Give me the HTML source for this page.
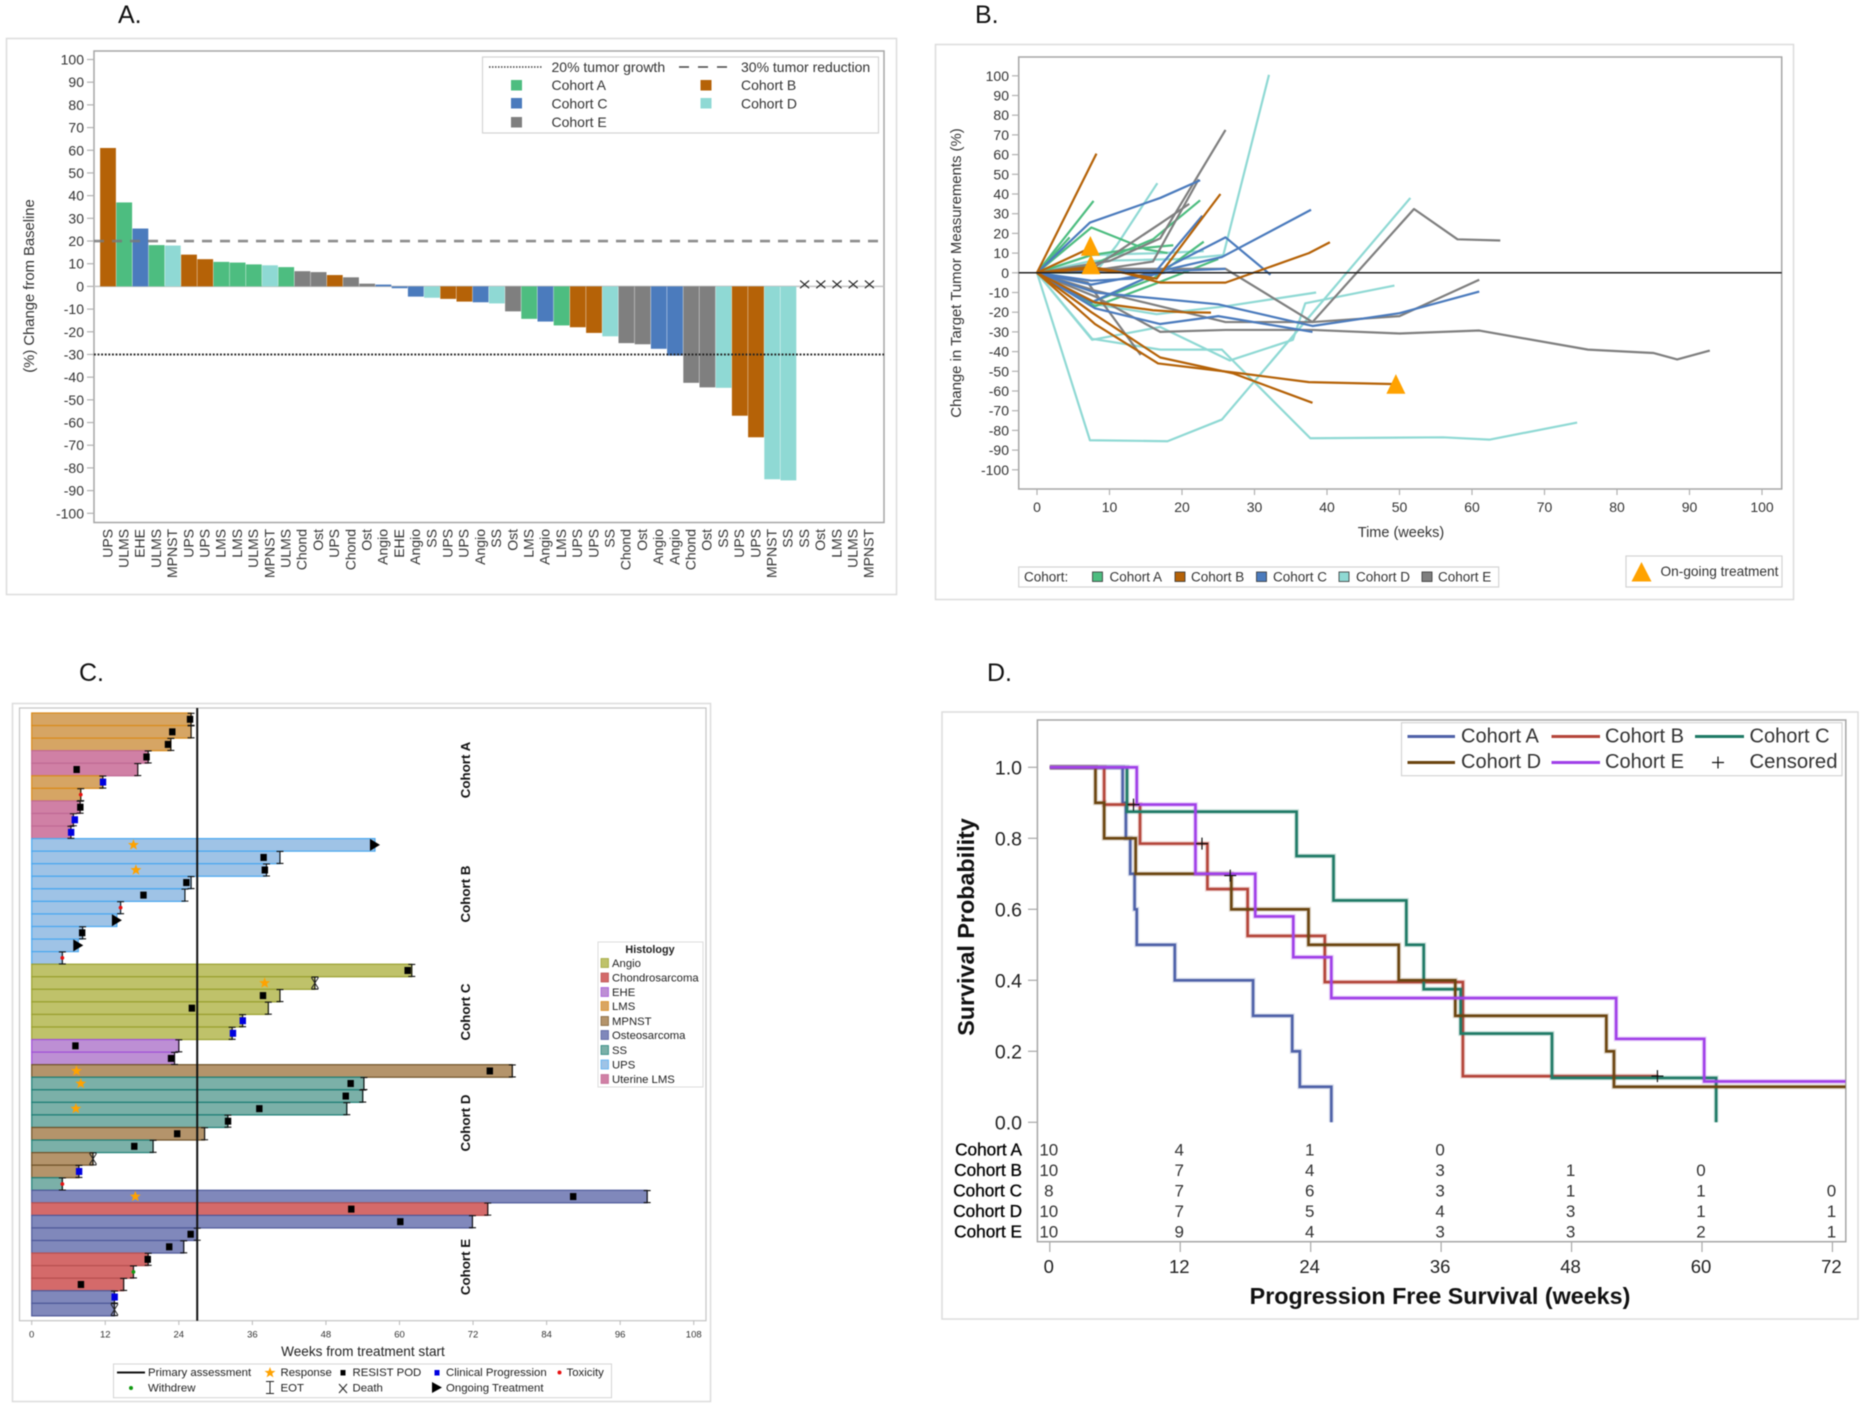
<!DOCTYPE html>
<html lang="en">
<head>
<meta charset="utf-8">
<title>Cohort response figures A-D</title>
<style>
html,body{margin:0;padding:0;background:#fff;}
svg{display:block;font-family:"Liberation Sans",sans-serif;fill:#222;filter:blur(0.45px);}
</style>
</head>
<body>
<svg id="fig" xmlns="http://www.w3.org/2000/svg" width="1860" height="1406" viewBox="0 0 1860 1406">
  <rect width="1860" height="1406" fill="#fff"/>

  <!-- Panel frames -->
  <g fill="none">
    <rect x="6.5" y="38.5" width="890" height="556" stroke="#dcdcdc" stroke-width="1.5" fill="#fff"/>
    <rect x="94" y="51" width="790" height="471.5" stroke="#a6a6a6" stroke-width="1.5"/>
  </g>
  <g fill="none">
    <rect x="935.5" y="44.5" width="858" height="555" stroke="#dcdcdc" stroke-width="1.5" fill="#fff"/>
    <rect x="1018.7" y="57" width="763" height="432" stroke="#a6a6a6" stroke-width="1.5"/>
  </g>
  <g fill="none">
    <rect x="12.5" y="703.5" width="698" height="698" stroke="#dcdcdc" stroke-width="1.5" fill="#fff"/>
    <rect x="19.5" y="708" width="686.5" height="612.7" stroke="#c4c4c4" stroke-width="1.2"/>
  </g>
  <g fill="none">
    <rect x="942" y="712" width="916" height="607" stroke="#dcdcdc" stroke-width="1.5" fill="#fff"/>
    <rect x="1037.4" y="720" width="808.4" height="521.7" stroke="#a6a6a6" stroke-width="1.5"/>
  </g>

  <!-- Panel letters -->
  <text x="118" y="23" font-size="25" fill="#111">A.</text>
  <text x="975" y="23" font-size="25" fill="#111">B.</text>
  <text x="79" y="681" font-size="25" fill="#111">C.</text>
  <text x="987" y="681" font-size="25" fill="#111">D.</text>

  <!-- Axis titles -->
  <text transform="translate(34,286) rotate(-90)" text-anchor="middle" font-size="14.8" fill="#333">(%) Change from Baseline</text>
  <text transform="translate(961,273) rotate(-90)" text-anchor="middle" font-size="14.9" fill="#333">Change in Target Tumor Measurements (%)</text>
  <text x="1401" y="537" text-anchor="middle" font-size="14.5" fill="#333">Time (weeks)</text>
  <text x="363" y="1356" text-anchor="middle" font-size="13.6" fill="#222">Weeks from treatment start</text>
  <text transform="translate(974,927) rotate(-90)" text-anchor="middle" font-size="23.3" font-weight="bold" fill="#111">Survival Probability</text>
  <text x="1440" y="1304" text-anchor="middle" font-size="23.3" font-weight="bold" fill="#111">Progression Free Survival (weeks)</text>

  <!-- Cohort labels, panel C -->
  <g font-size="13.3" font-weight="bold" fill="#111" text-anchor="middle">
    <text transform="translate(470,770) rotate(-90)">Cohort A</text>
    <text transform="translate(470,894) rotate(-90)">Cohort B</text>
    <text transform="translate(470,1012) rotate(-90)">Cohort C</text>
    <text transform="translate(470,1123) rotate(-90)">Cohort D</text>
    <text transform="translate(470,1267) rotate(-90)">Cohort E</text>
  </g>

  <g id="chartA"></g>
  <g id="chartB"></g>
  <g id="chartC"></g>
  <g id="chartD"></g>

  <!-- Legend A -->
  <g font-size="14" fill="#333">
    <rect x="482.5" y="57" width="396" height="76" fill="#fff" stroke="#d4d4d4" stroke-width="1.2"/>
    <line x1="489" y1="67" x2="543" y2="67" stroke="#444" stroke-width="1.5" stroke-dasharray="1.5 1.5"/>
    <text x="551.5" y="72">20% tumor growth</text>
    <line x1="679" y1="67" x2="728" y2="67" stroke="#444" stroke-width="1.5" stroke-dasharray="10 9"/>
    <text x="741" y="72">30% tumor reduction</text>
    <rect x="511" y="80" width="11" height="10.5" fill="#4dbd80"/>
    <text x="551.5" y="90">Cohort A</text>
    <rect x="700.5" y="80" width="11" height="10.5" fill="#b56207"/>
    <text x="741" y="90">Cohort B</text>
    <rect x="511" y="98" width="11" height="10.5" fill="#4b7bbd"/>
    <text x="551.5" y="108.5">Cohort C</text>
    <rect x="700.5" y="98" width="11" height="10.5" fill="#8fd9d4"/>
    <text x="741" y="108.5">Cohort D</text>
    <rect x="511" y="117" width="11" height="10.5" fill="#7f7f7f"/>
    <text x="551.5" y="127">Cohort E</text>
  </g>

  <!-- Legend B -->
  <g font-size="13.5" fill="#333">
    <rect x="1018.7" y="567" width="480" height="20" fill="#fff" stroke="#d4d4d4" stroke-width="1.2"/>
    <text x="1024" y="581.5">Cohort:</text>
    <rect x="1092.5" y="572" width="10" height="9.5" fill="#4dbd80" stroke="#333" stroke-width=".8"/>
    <text x="1109.5" y="581.5">Cohort A</text>
    <rect x="1175" y="572" width="10" height="9.5" fill="#b56207" stroke="#333" stroke-width=".8"/>
    <text x="1191" y="581.5">Cohort B</text>
    <rect x="1256.5" y="572" width="10" height="9.5" fill="#4b7bbd" stroke="#333" stroke-width=".8"/>
    <text x="1273" y="581.5">Cohort C</text>
    <rect x="1339" y="572" width="10" height="9.5" fill="#8fd9d4" stroke="#333" stroke-width=".8"/>
    <text x="1356" y="581.5">Cohort D</text>
    <rect x="1422" y="572" width="10" height="9.5" fill="#7f7f7f" stroke="#333" stroke-width=".8"/>
    <text x="1438" y="581.5">Cohort E</text>
  </g>
  <g font-size="13.7" fill="#333">
    <rect x="1626" y="556" width="156" height="31" fill="#fff" stroke="#d4d4d4" stroke-width="1.2"/>
    <polygon points="1641.5,562 1651.5,581.5 1631.5,581.5" fill="#ffa200"/>
    <text x="1660.5" y="576">On-going treatment</text>
  </g>

  <!-- Histology legend -->
  <g font-size="11.3" fill="#222">
    <rect x="598" y="942" width="105" height="145" fill="#fff" stroke="#dcdcdc" stroke-width="1"/>
    <text x="650" y="953" text-anchor="middle" font-weight="bold" font-size="10.8">Histology</text>
    <rect x="601" y="958.5" width="7.5" height="9" fill="#bfc26a" stroke="#9aa030" stroke-width=".7"/><text x="612" y="967">Angio</text>
    <rect x="601" y="973" width="7.5" height="9" fill="#d46a6a" stroke="#b85050" stroke-width=".7"/><text x="612" y="981.5">Chondrosarcoma</text>
    <rect x="601" y="987.5" width="7.5" height="9" fill="#bd8fd4" stroke="#a04fd8" stroke-width=".7"/><text x="612" y="996">EHE</text>
    <rect x="601" y="1001.5" width="7.5" height="9" fill="#d9a562" stroke="#d98b1b" stroke-width=".7"/><text x="612" y="1010">LMS</text>
    <rect x="601" y="1016.5" width="7.5" height="9" fill="#b4946b" stroke="#7a5a30" stroke-width=".7"/><text x="612" y="1025">MPNST</text>
    <rect x="601" y="1030.5" width="7.5" height="9" fill="#8088bb" stroke="#4f5a9a" stroke-width=".7"/><text x="612" y="1039">Osteosarcoma</text>
    <rect x="601" y="1045.5" width="7.5" height="9" fill="#7bb0a8" stroke="#1f7f77" stroke-width=".7"/><text x="612" y="1054">SS</text>
    <rect x="601" y="1060" width="7.5" height="9" fill="#9fc3e6" stroke="#4aa8f0" stroke-width=".7"/><text x="612" y="1068.5">UPS</text>
    <rect x="601" y="1074.5" width="7.5" height="9" fill="#d080a5" stroke="#c06a95" stroke-width=".7"/><text x="612" y="1083">Uterine LMS</text>
  </g>

  <!-- Bottom legend C -->
  <g font-size="11.4" fill="#222">
    <rect x="113.5" y="1364" width="498" height="33.7" fill="#fff" stroke="#d4d4d4" stroke-width="1"/>
    <line x1="117" y1="1372.5" x2="145" y2="1372.5" stroke="#111" stroke-width="2"/>
    <text x="148" y="1376">Primary assessment</text>
    <polygon points="270,1367 271.4,1370.9 275.5,1371 272.2,1373.5 273.4,1377.4 270,1375.1 266.6,1377.4 267.8,1373.5 264.5,1371 268.6,1370.9" fill="#ffa200"/>
    <text x="280.5" y="1376">Response</text>
    <rect x="340.5" y="1370" width="5" height="5.5" fill="#000"/>
    <text x="352.5" y="1376">RESIST POD</text>
    <rect x="434.5" y="1370" width="5" height="5.5" fill="#0000e0"/>
    <text x="446" y="1376">Clinical Progression</text>
    <circle cx="559.5" cy="1372.5" r="2" fill="#e81010"/>
    <text x="566.5" y="1376">Toxicity</text>
    <circle cx="131" cy="1388" r="2" fill="#119911"/>
    <text x="148" y="1391.5">Withdrew</text>
    <path d="M266 1381.5H274M270 1381.5V1393.5M266 1393.5H274" stroke="#222" stroke-width="1" fill="none"/>
    <text x="280.5" y="1391.5">EOT</text>
    <path d="M339 1384L347 1393M347 1384L339 1393" stroke="#222" stroke-width="1" fill="none"/>
    <text x="352.5" y="1391.5">Death</text>
    <polygon points="432,1382 442,1387.5 432,1393" fill="#000"/>
    <text x="446" y="1391.5">Ongoing Treatment</text>
  </g>

  <!-- Legend D -->
  <g font-size="20" fill="#333">
    <rect x="1401.5" y="722.7" width="440.5" height="53" fill="#fff" stroke="#d4d4d4" stroke-width="1.2"/>
    <line x1="1407.5" y1="736.5" x2="1455" y2="736.5" stroke="#4f62a8" stroke-width="3"/>
    <text x="1461" y="742.5">Cohort A</text>
    <line x1="1551.5" y1="736.5" x2="1600" y2="736.5" stroke="#b4453a" stroke-width="3"/>
    <text x="1605" y="742.5">Cohort B</text>
    <line x1="1695" y1="736.5" x2="1744" y2="736.5" stroke="#1f7a66" stroke-width="3"/>
    <text x="1749.5" y="742.5">Cohort C</text>
    <line x1="1407.5" y1="762.5" x2="1455" y2="762.5" stroke="#6b4510" stroke-width="3"/>
    <text x="1461" y="768">Cohort D</text>
    <line x1="1551.5" y1="762.5" x2="1600" y2="762.5" stroke="#a040e8" stroke-width="3"/>
    <text x="1605" y="768">Cohort E</text>
    <path d="M1718 756.5V768.5M1712 762.5H1724" stroke="#111" stroke-width="1.2" fill="none"/>
    <text x="1749.5" y="768" textLength="88" lengthAdjust="spacingAndGlyphs">Censored</text>
  </g>
</svg>

<script>
/* ===== Panel A data ===== */
const aCategories = ["UPS","ULMS","EHE","ULMS","MPNST","UPS","UPS","LMS","LMS","ULMS","MPNST","ULMS","Chond","Ost","UPS","Chond","Ost","Angio","EHE","Angio","SS","UPS","UPS","Angio","SS","Ost","LMS","Angio","LMS","UPS","UPS","SS","Chond","Ost","Angio","Angio","Chond","Ost","SS","UPS","UPS","MPNST","SS","SS","Ost","LMS","ULMS","MPNST"];
const aValues = [61,37,25.5,18.2,18,14,12,10.8,10.5,9.7,9.3,8.5,6.7,6.3,5,4,1.2,0.8,-0.8,-4.5,-5,-5.5,-6.7,-7,-7.5,-11,-14.3,-15.5,-17.2,-18,-20.5,-22,-25,-25.5,-27.5,-30.5,-42.5,-44.5,-44.7,-57,-66.5,-85,-85.5,null,null,null,null,null];
const aCohorts = ["B","A","C","A","D","B","B","A","A","A","D","A","E","E","B","E","E","C","C","C","D","B","B","C","D","E","A","C","A","B","B","D","E","E","C","C","E","E","D","B","B","D","D","","","","",""];
const aTicks = [100,90,80,70,60,50,40,30,20,10,0,-10,-20,-30,-40,-50,-60,-70,-80,-90,-100];

/* ===== Panel B data ===== */
const bTicksX = [0,10,20,30,40,50,60,70,80,90,100];
const bTicksY = [100,90,80,70,60,50,40,30,20,10,0,-10,-20,-30,-40,-50,-60,-70,-80,-90,-100];
const bTimesA = [[0,7.8],[0,4.5],[0,7.5,15,18],[0,7.5,13,18.8],[0,7.5,16,23],[0,8,16,25],[0,7.5,16,22.5]];
const bValuesA = [[0,36.5],[0,18],[0,23,12,10],[0,9,12,14],[0,-15,-3,15.8],[0,-17,-6,7],[0,4,17,36.8]];
const bTimesD = [[0,7.3,18,25.5,51.5],[0,7.6,17,25.5,37.7,56,62.4,74.5],[0,7.6,17,26.6,35.3,37,49.3],[0,8,16.5,26,38.5],[0,7.5,17,23],[0,8,11,16.6],[0,7.5,20,25.7,32]];
const bValuesD = [[0,-85,-85.5,-74.5,38],[0,-33.5,-39,-39,-84,-83.5,-84.7,-76],[0,-34,-27.5,-44.5,-34,-15.5,-6.5],[0,-16,-21,-17,-10],[0,9,10,11],[0,0,14,45.5],[0,6,7,9,100.5]];
const bTimesC = [[0,7.3,17,22.5],[0,7.5,13,19,26],[0,7.5,16,25.5,37.8],[0,7.5,17,26,32.2],[0,8,25,38,50,61],[0,8,17,25,38],[0,7.5,16,22.8]];
const bValuesC = [[0,25.5,38,47],[0,-4,-3,1,2],[0,-6,0,8,32],[0,1,1,18,-1],[0,-10,-16,-27,-20.5,-9.5],[0,-18,-26,-22,-30],[0,-15,-1,29]];
const bTimesE = [[0,7.5,16,22.3],[0,10,17,26],[0,8,17,21],[0,8,26,38,52,58,63.9],[0,8,26,38,50,61],[0,8,17,26,38,50,61,76,85,88.3,92.8],[0,7,14.3]];
const bValuesE = [[0,1,5.7,47.5],[0,6,17.5,72.5],[0,3,25,35],[0,2,2,-25,32.4,17,16.4],[0,-9,-25,-25,-22,-3.5],[0,-12,-30,-29,-29,-30.8,-29.3,-39,-40.7,-44,-39.5],[0,-5,-41.7]];
const bTimesB = [[0,8.2],[0,7],[0,7.5,12,17,26,37.5,40.4],[0,7.5,16.5,25.3],[0,8,16,20,24],[0,7.5,17,27,38],[0,8,16.7,28,37.5,49.5]];
const bValuesB = [[0,60.5],[0,12],[0,2,0,-5,-5,10,15.5],[0,3,-3,40],[0,-15,-19,-20,-20.2],[0,-20,-43,-51,-66],[0,-26,-46,-51,-55.5,-56.5]];
const bOngoingTimes = [7.36,7.44,49.5];
const bOngoingValues = [13.6,4.2,-56.5];

/* ===== Panel C data ===== */
const cTicks = [0,12,24,36,48,60,72,84,96,108];
const cPrimaryAssessment = 27;
const cHistology = ["LMS","LMS","LMS","ULMS","ULMS","LMS","LMS","ULMS","ULMS","ULMS","UPS","UPS","UPS","UPS","UPS","UPS","UPS","UPS","UPS","UPS","Angio","Angio","Angio","Angio","Angio","Angio","EHE","EHE","MPNST","SS","SS","SS","SS","MPNST","SS","MPNST","MPNST","SS","Ost","Chond","Ost","Ost","Ost","Chond","Chond","Chond","Ost","Ost"];
const cEnd = [26,26,22.7,19,17.3,11.6,8,7.9,6.8,6.4,56,40.5,38.3,26,25,14.5,13.9,8.3,7.6,5,62,46.2,40.5,38.6,34.4,32.7,24,23.3,78.4,54.2,54,51.4,32,28.2,19.8,10,7.7,5,100.4,74.4,71.9,27,24.8,19,16.6,15,13.5,13.5];
const cPod = [25.8,22.9,22.2,18.7,7.3,null,null,7.9,null,null,null,37.8,38,25.2,18.2,null,null,8.2,null,null,61.3,null,37.7,26.1,null,null,7.1,22.7,74.7,52,51.2,37.1,32,23.7,16.7,null,null,null,88.3,52.1,60.1,25.9,22.4,18.9,null,8,null,null];
const cClinical = [null,null,null,null,null,11.6,null,null,7,6.4,null,null,null,null,null,null,null,null,null,null,null,null,null,null,34.4,32.8,null,null,null,null,null,null,null,null,null,null,7.7,null,null,null,null,null,null,null,null,null,13.5,null];
const cToxicity = [null,null,null,null,null,null,8,null,null,null,null,null,null,null,null,14.5,null,null,null,5,null,null,null,null,null,null,null,null,null,null,null,null,null,null,null,null,null,5,null,null,null,null,null,null,null,null,null,null];
const cWithdrew = [null,null,null,null,null,null,null,null,null,null,null,null,null,null,null,null,null,null,null,null,null,null,null,null,null,null,null,null,null,null,null,null,null,null,null,null,null,null,null,null,null,null,null,null,16.6,null,null,null];
const cResponse = [null,null,null,null,null,null,null,null,null,null,16.6,null,17,null,null,null,null,null,null,null,null,38,null,null,null,null,null,null,7.3,8,null,7.2,null,null,null,null,null,null,16.9,null,null,null,null,null,null,null,null,null];
const cOutcome = ["E","E","E","E","E","E","E","E","E","E","O","E","E","E","E","E","O","E","O","E","E","D","E","E","E","E","E","E","E","E","E","E","E","E","E","D","E","E","E","E","E","E","E","E","E","E","E","D"];

/* ===== Panel D data ===== */
const dTicksX = [0,12,24,36,48,60,72];
const dTicksY = [1,0.8,0.6,0.4,0.2,0];
const dTimesA = [0,6.7,7,7.4,7.8,8,11.5,18.7,22.3,23,25.9];
const dSurvA = [1,.9,.8,.7,.6,.5,.4,.3,.2,.1,0];
const dTimesB = [0,5,8.3,14.5,18.2,25.3,38,56];
const dSurvB = [1,.895,.785,.657,.525,.395,.13,.13];
const dTimesC = [0,7.1,22.7,26.1,32.8,34.4,37.8,46.2,61.3];
const dSurvC = [1,.875,.75,.625,.5,.375,.25,.125,0];
const dTimesD = [0,4.2,5,7.9,16.7,23.8,32.1,37.3,51.2,51.9,73.2];
const dSurvD = [1,.9,.8,.7,.6,.5,.4,.3,.2,.1,.1];
const dTimesE = [0,8,13.4,18.9,22.4,25.9,52.1,60.2,73.2];
const dSurvE = [1,.895,.7,.58,.465,.35,.235,.115,.115];
const dCensorTimes = [7.7,14,16.6,55.9];
const dCensorSurv = [.895,.785,.695,.13];
const dRiskLabels = ["Cohort A","Cohort B","Cohort C","Cohort D","Cohort E"];
const dRiskA = [10,4,1,0,null,null,null];
const dRiskB = [10,7,4,3,1,0,null];
const dRiskC = [8,7,6,3,1,1,0];
const dRiskD = [10,7,5,4,3,1,1];
const dRiskE = [10,9,4,3,3,2,1];

/* ===== Helpers ===== */
const NS = "http://www.w3.org/2000/svg";
function mk(parent, type, attrs, name) {
  const e = document.createElementNS(NS, type);
  for (const k in attrs) e.setAttribute(k, attrs[k]);
  
  
  parent.appendChild(e);
  return e;
}
function txt(parent, attrs, str, name) {
  const e = mk(parent, "text", attrs, name);
  e.textContent = str;
  return e;
}
const cohortColor = {A:"#4dbd80",B:"#b56207",C:"#4b7bbd",D:"#8fd9d4",E:"#7f7f7f"};

/* ===== Panel A ===== */
const gA = document.getElementById("chartA");
const aX = i => 108 + i * 16.2;
const aY = v => 286.4 - v * 2.269;
aTicks.forEach(t => {
  mk(gA, "line", {x1:87, x2:94, y1:aY(t), y2:aY(t), stroke:"#b0b0b0", "stroke-width":1.2}, "a-y-tick");
  txt(gA, {x:84, y:aY(t)+5, "text-anchor":"end", "font-size":14, fill:"#333"}, t, "a-y-tick-label");
});
mk(gA, "line", {x1:94, x2:884, y1:aY(0), y2:aY(0), stroke:"#c4c4c4", "stroke-width":1.5}, "a-zero-line");
aCategories.forEach((c, i) => {
  const v = aValues[i];
  const x = aX(i);
  if (v !== null) {
    mk(gA, "rect", {x:x-7.9, width:15.8, y:Math.min(aY(0),aY(v)), height:Math.abs(aY(v)-aY(0)), fill:cohortColor[aCohorts[i]]}, "a-bar");
  } else {
    const y0 = aY(0) - 2;
    mk(gA, "path", {d:`M${x-4.5} ${y0-3.8}L${x+4.5} ${y0+3.8}M${x+4.5} ${y0-3.8}L${x-4.5} ${y0+3.8}`, stroke:"#222", "stroke-width":1.2, fill:"none"}, "a-no-data-x");
  }
  txt(gA, {transform:`translate(${x+4.3},529) rotate(-90)`, "text-anchor":"end", "font-size":14, fill:"#333"}, c, "a-category-label");
});
mk(gA, "line", {x1:94, x2:884, y1:aY(20), y2:aY(20), stroke:"#7a7a7a", "stroke-width":2.6, "stroke-dasharray":"10 8", opacity:.85}, "a-growth-reference-line");
mk(gA, "line", {x1:94, x2:884, y1:aY(-30), y2:aY(-30), stroke:"#222", "stroke-width":2, "stroke-dasharray":"1.8 1.8"}, "a-reduction-reference-line");

/* ===== Panel B ===== */
const gB = document.getElementById("chartB");
const bX = t => 1037 + t * 7.25;
const bY = v => 272.8 - v * 1.97;
bTicksY.forEach(t => {
  mk(gB, "line", {x1:1012, x2:1018.7, y1:bY(t), y2:bY(t), stroke:"#b0b0b0", "stroke-width":1.2}, "b-y-tick");
  txt(gB, {x:1009, y:bY(t)+5, "text-anchor":"end", "font-size":14, fill:"#333"}, t, "b-y-tick-label");
});
bTicksX.forEach(t => {
  mk(gB, "line", {x1:bX(t), x2:bX(t), y1:489, y2:495, stroke:"#b0b0b0", "stroke-width":1.2}, "b-x-tick");
  txt(gB, {x:bX(t), y:512, "text-anchor":"middle", "font-size":14, fill:"#333"}, t, "b-x-tick-label");
});
function bLines(times, values, color, name) {
  times.forEach((ts, i) => {
    const pts = ts.map((t, j) => bX(t) + "," + bY(values[i][j])).join(" ");
    mk(gB, "polyline", {points:pts, fill:"none", stroke:color, "stroke-width":2.2, "stroke-linejoin":"round"}, name);
  });
}
bLines(bTimesD, bValuesD, cohortColor.D, "b-line-cohort-d");
bLines(bTimesA, bValuesA, cohortColor.A, "b-line-cohort-a");
bLines(bTimesE, bValuesE, cohortColor.E, "b-line-cohort-e");
bLines(bTimesC, bValuesC, cohortColor.C, "b-line-cohort-c");
bLines(bTimesB, bValuesB, cohortColor.B, "b-line-cohort-b");
mk(gB, "line", {x1:1018.7, x2:1781.7, y1:bY(0), y2:bY(0), stroke:"#222", "stroke-width":1.5}, "b-zero-line");
bOngoingTimes.forEach((t, i) => {
  const x = bX(t), y = bY(bOngoingValues[i]);
  mk(gB, "polygon", {points:`${x},${y-10} ${x+9.5},${y+9.7} ${x-9.5},${y+9.7}`, fill:"#ffa200"}, "b-ongoing-marker");
});

/* ===== Panel C ===== */
const gC = document.getElementById("chartC");
const cX = w => 31.7 + w * 6.13;
const cRowH = 12.56;
const cRowTop = i => 713 + i * cRowH;
const histFill = {LMS:"#d6a564",ULMS:"#d080a5",UPS:"#9fc3e6",Angio:"#bfc26a",EHE:"#bd8fd4",MPNST:"#b4946b",SS:"#7bb0a8",Ost:"#8088bb",Chond:"#d46a6a"};
const histEdge = {LMS:"#d98b1b",ULMS:"#c06a95",UPS:"#4aa8f0",Angio:"#9aa030",EHE:"#a04fd8",MPNST:"#6f5228",SS:"#1f7f77",Ost:"#4f5a9a",Chond:"#b85050"};
cTicks.forEach(t => {
  mk(gC, "line", {x1:cX(t), x2:cX(t), y1:1320.7, y2:1325, stroke:"#b8b8b8", "stroke-width":1}, "c-x-tick");
  txt(gC, {x:cX(t), y:1337.5, "text-anchor":"middle", "font-size":9.5, fill:"#333"}, t, "c-x-tick-label");
});
cHistology.forEach((h, i) => {
  mk(gC, "rect", {x:cX(0), y:cRowTop(i), width:cX(cEnd[i])-cX(0), height:cRowH, fill:histFill[h], stroke:histEdge[h], "stroke-width":1.2}, "c-bar");
});
mk(gC, "line", {x1:cX(cPrimaryAssessment), x2:cX(cPrimaryAssessment), y1:708, y2:1320.7, stroke:"#111", "stroke-width":2}, "c-primary-assessment-line");
function cStar(w, i) {
  const cx = cX(w), cy = cRowTop(i) + cRowH/2, pts = [];
  for (let k = 0; k < 10; k++) {
    const r = k % 2 ? 2.4 : 5.8, a = -Math.PI/2 + k * Math.PI/5;
    pts.push((cx + r*Math.cos(a)) + "," + (cy + r*Math.sin(a)));
  }
  mk(gC, "polygon", {points:pts.join(" "), fill:"#ffa200"}, "c-response-star");
}
cHistology.forEach((h, i) => {
  const yc = cRowTop(i) + cRowH/2;
  const xe = cX(cEnd[i]);
  if (cOutcome[i] !== "O") {
    mk(gC, "path", {d:`M${xe-3.5} ${yc-6}H${xe+3.5}M${xe} ${yc-6}V${yc+6}M${xe-3.5} ${yc+6}H${xe+3.5}`, stroke:"#111", "stroke-width":1.1, fill:"none"}, "c-eot-marker");
  } else {
    mk(gC, "polygon", {points:`${xe-5},${yc-6} ${xe+5},${yc} ${xe-5},${yc+6}`, fill:"#000"}, "c-ongoing-marker");
  }
  if (cOutcome[i] === "D") {
    mk(gC, "path", {d:`M${xe-3.5} ${yc-5.5}L${xe+3.5} ${yc+5.5}M${xe+3.5} ${yc-5.5}L${xe-3.5} ${yc+5.5}`, stroke:"#222", "stroke-width":1, fill:"none"}, "c-death-marker");
  }
  if (cResponse[i] !== null) cStar(cResponse[i], i);
  if (cPod[i] !== null) mk(gC, "rect", {x:cX(cPod[i])-3, y:yc-3.5, width:6.4, height:7, fill:"#000"}, "c-resist-pod-marker");
  if (cClinical[i] !== null) mk(gC, "rect", {x:cX(cClinical[i])-3, y:yc-3.5, width:6.4, height:7, fill:"#0000e0"}, "c-clinical-progression-marker");
  if (cToxicity[i] !== null) mk(gC, "circle", {cx:cX(cToxicity[i]), cy:yc, r:1.9, fill:"#e81010"}, "c-toxicity-marker");
  if (cWithdrew[i] !== null) mk(gC, "circle", {cx:cX(cWithdrew[i]), cy:yc, r:1.9, fill:"#119911"}, "c-withdrew-marker");
});

/* ===== Panel D ===== */
const gD = document.getElementById("chartD");
const dX = w => 1049.8 + w * 10.87;
const dY = p => 1122.3 - p * 355;
dTicksY.forEach(t => {
  mk(gD, "line", {x1:1028, x2:1037.4, y1:dY(t), y2:dY(t), stroke:"#a8a8a8", "stroke-width":1.2}, "d-y-tick");
  txt(gD, {x:1022, y:dY(t)+7, "text-anchor":"end", "font-size":19.5, fill:"#222"}, t.toFixed(1), "d-y-tick-label");
});
dTicksX.forEach(t => {
  mk(gD, "line", {x1:dX(t), x2:dX(t), y1:1241.7, y2:1252, stroke:"#a8a8a8", "stroke-width":1.2}, "d-x-tick");
  txt(gD, {x:dX(t)-1, y:1273, "text-anchor":"middle", "font-size":18.5, fill:"#222"}, t, "d-x-tick-label");
});
function dStep(times, surv, color, name) {
  let d = `M${dX(times[0])} ${dY(surv[0])}`;
  for (let i = 1; i < times.length; i++) d += `H${dX(times[i])}V${dY(surv[i])}`;
  mk(gD, "path", {d:d, fill:"none", stroke:color, "stroke-width":5, opacity:.22}, name + "-halo");
  mk(gD, "path", {d:d, fill:"none", stroke:color, "stroke-width":2.6}, name);
}
dStep(dTimesA, dSurvA, "#4f62a8", "d-curve-cohort-a");
dStep(dTimesB, dSurvB, "#b4453a", "d-curve-cohort-b");
dStep(dTimesC, dSurvC, "#1f7a66", "d-curve-cohort-c");
dStep(dTimesD, dSurvD, "#6b4510", "d-curve-cohort-d");
dStep(dTimesE, dSurvE, "#a040e8", "d-curve-cohort-e");
dCensorTimes.forEach((t, i) => {
  const x = dX(t), y = dY(dCensorSurv[i]);
  mk(gD, "path", {d:`M${x-6} ${y}H${x+6}M${x} ${y-6}V${y+6}`, stroke:"#111", "stroke-width":1.2, fill:"none"}, "d-censored-marker");
});
const dRiskColumns = [dX(0)-1, dX(12)-1, dX(24)-1, dX(36)-1, dX(48)-1, dX(60)-1, dX(72)-1];
[dRiskA, dRiskB, dRiskC, dRiskD, dRiskE].forEach((row, r) => {
  const y = 1149.3 + r * 20.6;
  txt(gD, {x:1022, y:y+6, "text-anchor":"end", "font-size":17.2, fill:"#000", stroke:"#000", "stroke-width":.3}, dRiskLabels[r], "d-risk-row-label");
  row.forEach((n, c) => {
    if (n !== null) txt(gD, {x:dRiskColumns[c], y:y+6, "text-anchor":"middle", "font-size":17, fill:"#333"}, n, "d-risk-count");
  });
});
</script>
</body>
</html>
